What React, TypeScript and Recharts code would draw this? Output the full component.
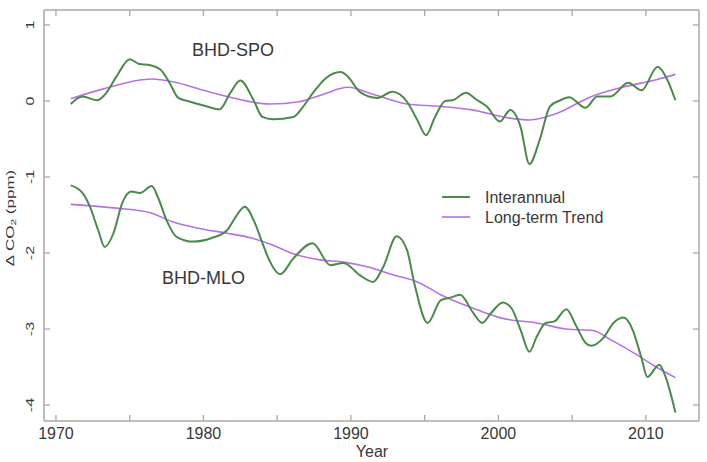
import React from 'react';
import { LineChart, Line, XAxis, YAxis, Legend, ReferenceDot } from 'recharts';

const FONT = '"Liberation Sans", Arial, Helvetica, sans-serif';
const FRAME = '#a8a8a8';
const INK = '#383838';
const GREEN = '#4a8a4a';
const PURPLE = '#b671e4';

const yearTicks = [1970, 1975, 1980, 1985, 1990, 1995, 2000, 2005, 2010];
const ppmTicks = [-4, -3, -2, -1, 0, 1];

// [year, ΔCO2 ppm]
const spoInterannual: [number, number][] = [
  [1971.0, -0.04], [1971.8, 0.06], [1972.8, 0.01], [1973.3, 0.08], [1974.1, 0.32],
  [1975.0, 0.55], [1975.6, 0.49], [1976.4, 0.47], [1977.1, 0.41], [1977.7, 0.24],
  [1978.3, 0.04], [1979.1, -0.01], [1980.2, -0.07], [1981.1, -0.11], [1981.8, 0.1],
  [1982.5, 0.27], [1983.4, 0.01], [1984.0, -0.21], [1984.7, -0.24], [1986.1, -0.21],
  [1986.7, -0.09], [1987.4, 0.1], [1988.3, 0.3], [1989.3, 0.38], [1989.8, 0.32],
  [1990.6, 0.12], [1991.8, 0.04], [1992.8, 0.12], [1993.8, -0.01], [1994.5, -0.25],
  [1995.1, -0.45], [1995.7, -0.21], [1996.4, 0.0], [1996.9, 0.01], [1997.8, 0.11],
  [1998.5, 0.02], [1999.2, -0.07], [2000.1, -0.27], [2000.8, -0.12], [2001.5, -0.34],
  [2002.1, -0.83], [2002.8, -0.51], [2003.5, -0.07], [2004.2, 0.01], [2004.8, 0.05],
  [2005.9, -0.09], [2006.7, 0.06], [2007.6, 0.06], [2008.8, 0.24], [2009.7, 0.14],
  [2010.8, 0.45], [2011.4, 0.3], [2012.0, 0.01],
];

const spoTrend: [number, number][] = [
  [1971, 0.03], [1972.5, 0.12], [1974, 0.2], [1975.5, 0.27], [1976.5, 0.29],
  [1978, 0.25], [1980, 0.14], [1982, 0.04], [1984.5, -0.04], [1986.5, -0.01],
  [1988, 0.08], [1989.8, 0.18], [1991.5, 0.09], [1993.8, -0.04], [1996, -0.07],
  [1998.3, -0.12], [2000.6, -0.22], [2002.1, -0.25], [2004, -0.16], [2006.2, 0.05],
  [2008.4, 0.18], [2010.7, 0.28], [2012, 0.35],
];

const mloInterannual: [number, number][] = [
  [1971.0, -1.11], [1971.8, -1.21], [1972.3, -1.39], [1972.9, -1.72], [1973.3, -1.92],
  [1973.9, -1.74], [1974.5, -1.34], [1975.1, -1.19], [1975.7, -1.21], [1976.5, -1.12],
  [1976.9, -1.26], [1977.5, -1.57], [1978.2, -1.79], [1979.3, -1.85], [1980.6, -1.8],
  [1981.6, -1.7], [1982.2, -1.52], [1982.8, -1.39], [1983.5, -1.61], [1984.0, -1.87],
  [1984.5, -2.11], [1985.2, -2.28], [1986.1, -2.07], [1987.4, -1.87], [1988.6, -2.16],
  [1989.5, -2.13], [1990.6, -2.29], [1991.5, -2.38], [1992.2, -2.18], [1993.1, -1.78],
  [1993.8, -1.96], [1994.3, -2.4], [1995.2, -2.92], [1996.1, -2.62], [1996.7, -2.59],
  [1997.4, -2.55], [1998.3, -2.79], [1998.9, -2.92], [1999.5, -2.79], [2000.3, -2.65],
  [2000.9, -2.73], [2001.5, -3.01], [2002.1, -3.3], [2002.6, -3.1], [2003.2, -2.92],
  [2003.8, -2.9], [2004.6, -2.74], [2005.3, -2.97], [2005.9, -3.18], [2006.3, -3.22],
  [2007.1, -3.12], [2007.8, -2.92], [2008.5, -2.85], [2009.1, -3.01], [2009.7, -3.38],
  [2010.1, -3.63], [2010.9, -3.47], [2011.3, -3.61], [2012.0, -4.1],
];

const mloTrend: [number, number][] = [
  [1971, -1.36], [1974.1, -1.41], [1976.4, -1.47], [1977.9, -1.59], [1979.8, -1.68],
  [1981.6, -1.74], [1983.2, -1.8], [1984.5, -1.88], [1986.1, -2.01], [1987.9, -2.09],
  [1989.5, -2.12], [1991.1, -2.18], [1992.9, -2.29], [1994.5, -2.38], [1996.3, -2.57],
  [1998.6, -2.75], [2000.3, -2.86], [2002.6, -2.92], [2004.6, -3.0], [2006.4, -3.02],
  [2007.6, -3.14], [2009.4, -3.34], [2010.7, -3.5], [2012, -3.64],
];

const toPoints = (rows: [number, number][]) => rows.map(([year, value]) => ({ year, value }));

const X_DOMAIN: [number, number] = [1969.19, 2013.6];
const Y_DOMAIN: [number, number] = [-4.21, 1.197];
const TICK_LEN = 6;

// ticks point into the plot box, R style
const BottomTick = ({ x, y, payload }: any) => (
  <g>
    <line x1={x} y1={y} x2={x} y2={y - TICK_LEN} stroke={FRAME} strokeWidth={1.3} />
    {payload.value % 10 === 0 && (
      <text x={x} y={y + 18} textAnchor="middle" fill={INK} fontSize={16} fontFamily={FONT}>
        {payload.value}
      </text>
    )}
  </g>
);

const TopTick = ({ x, y }: any) => (
  <line x1={x} y1={y} x2={x} y2={y + TICK_LEN} stroke={FRAME} strokeWidth={1.3} />
);

const LeftTick = ({ x, y, payload }: any) => (
  <g>
    <line x1={x} y1={y} x2={x + TICK_LEN} y2={y} stroke={FRAME} strokeWidth={1.3} />
    <text
      transform={`translate(31, ${y}) rotate(-90) scale(1, 0.65)`}
      textAnchor="middle"
      dominantBaseline="central"
      fill={INK}
      fontSize={16}
      fontFamily={FONT}
    >
      {payload.value}
    </text>
  </g>
);

const RightTick = ({ x, y }: any) => (
  <line x1={x} y1={y} x2={x - TICK_LEN} y2={y} stroke={FRAME} strokeWidth={1.3} />
);

const YTitle = () => (
  <text
    transform="translate(10, 218) rotate(-90) scale(1, 0.65)"
    textAnchor="middle"
    dominantBaseline="central"
    fill={INK}
    fontSize={17}
    fontFamily={FONT}
  >
    Δ CO<tspan fontSize={12} dy={4}>2</tspan>
    <tspan dy={-4}> (ppm)</tspan>
  </text>
);

const XTitle = () => (
  <text x={372} y={457} textAnchor="middle" fill={INK} fontSize={16} fontFamily={FONT}>
    Year
  </text>
);

const LegendBox = () => (
  <svg width={180} height={44} style={{ display: 'block', overflow: 'visible' }}>
    <line x1={2} y1={11} x2={30} y2={11} stroke={GREEN} strokeWidth={2} />
    <text x={45} y={16.5} fill={INK} fontSize={16} fontFamily={FONT}>Interannual</text>
    <line x1={2} y1={31} x2={30} y2={31} stroke={PURPLE} strokeWidth={1.6} />
    <text x={45} y={36.5} fill={INK} fontSize={16} fontFamily={FONT}>Long-term Trend</text>
  </svg>
);

const siteLabel = (value: string) => ({
  value,
  position: 'center' as const,
  fill: INK,
  fontSize: 18,
  fontFamily: FONT,
});

export default function App() {
  return (
    <div style={{ position: 'absolute', left: 0, top: 0, width: 707, height: 462, background: '#fff' }}>
      <LineChart width={707} height={462} margin={{ top: 9, right: 7, bottom: 0, left: 0 }}>
        <XAxis
          xAxisId="bottom"
          type="number"
          dataKey="year"
          domain={X_DOMAIN}
          allowDataOverflow
          ticks={yearTicks}
          interval={0}
          height={41}
          tickSize={0}
          tickMargin={0}
          tickLine={false}
          axisLine={{ stroke: FRAME, strokeWidth: 1.5 }}
          tick={(p: any) => <BottomTick {...p} />}
          label={<XTitle />}
        />
        <XAxis
          xAxisId="top"
          orientation="top"
          type="number"
          dataKey="year"
          domain={X_DOMAIN}
          allowDataOverflow
          ticks={yearTicks}
          interval={0}
          height={1}
          tickSize={0}
          tickMargin={0}
          tickLine={false}
          axisLine={{ stroke: FRAME, strokeWidth: 1.5 }}
          tick={(p: any) => <TopTick {...p} />}
        />
        <YAxis
          yAxisId="left"
          type="number"
          domain={Y_DOMAIN}
          allowDataOverflow
          ticks={ppmTicks}
          interval={0}
          width={44}
          tickSize={0}
          tickMargin={0}
          tickLine={false}
          axisLine={{ stroke: FRAME, strokeWidth: 1.5 }}
          tick={(p: any) => <LeftTick {...p} />}
          label={<YTitle />}
        />
        <YAxis
          yAxisId="right"
          orientation="right"
          type="number"
          domain={Y_DOMAIN}
          allowDataOverflow
          ticks={ppmTicks}
          interval={0}
          width={1}
          tickSize={0}
          tickMargin={0}
          tickLine={false}
          axisLine={{ stroke: FRAME, strokeWidth: 1.5 }}
          tick={(p: any) => <RightTick {...p} />}
        />

        <Line xAxisId="bottom" yAxisId="left" data={toPoints(spoTrend)} dataKey="value" type="monotone"
          stroke={PURPLE} strokeWidth={1.6} dot={false} activeDot={false} isAnimationActive={false} />
        <Line xAxisId="bottom" yAxisId="left" data={toPoints(spoInterannual)} dataKey="value" type="monotone"
          stroke={GREEN} strokeWidth={2} dot={false} activeDot={false} isAnimationActive={false} />
        <Line xAxisId="bottom" yAxisId="left" data={toPoints(mloTrend)} dataKey="value" type="monotone"
          stroke={PURPLE} strokeWidth={1.6} dot={false} activeDot={false} isAnimationActive={false} />
        <Line xAxisId="bottom" yAxisId="left" data={toPoints(mloInterannual)} dataKey="value" type="monotone"
          stroke={GREEN} strokeWidth={2} dot={false} activeDot={false} isAnimationActive={false} />

        <ReferenceDot xAxisId="bottom" yAxisId="left" x={1982} y={0.67} r={0} stroke="none" fill="none"
          label={siteLabel('BHD-SPO')} />
        <ReferenceDot xAxisId="bottom" yAxisId="left" x={1980} y={-2.33} r={0} stroke="none" fill="none"
          label={siteLabel('BHD-MLO')} />

        <Legend
          layout="vertical"
          align="center"
          verticalAlign="middle"
          content={() => <LegendBox />}
          wrapperStyle={{ left: 440, top: 186, width: 180, height: 44 }}
        />
      </LineChart>
    </div>
  );
}
